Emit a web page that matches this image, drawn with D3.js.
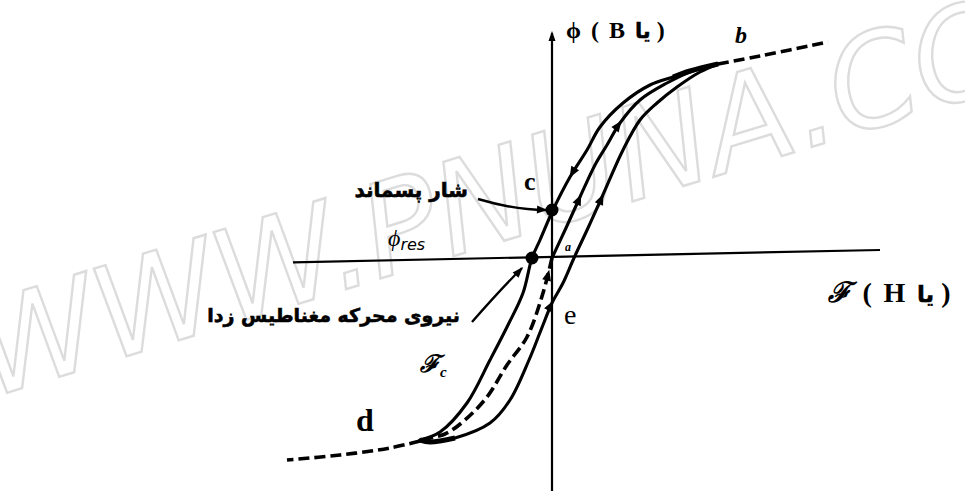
<!DOCTYPE html>
<html><head><meta charset="utf-8">
<script src="https://cdn.jsdelivr.net/npm/d3@7"></script>
<style>body{margin:0;background:#fff}svg{display:block}</style></head>
<body><svg id="c" width="965" height="491"></svg>
<script>
// ---- data (F = magnetomotive force, phi = flux) ----
const descF   = [1.66, 1.38, 1.21, 0.98, 0.71, 0.48, 0.35, 0.18, 0.01, -0.12, -0.20, -0.29, -0.44, -0.62, -0.85, -1.12, -1.32];
const descPhi = [1.94, 1.87, 1.81, 1.73, 1.55, 1.31, 1.08, 0.81, 0.48, 0.18, 0.00, -0.35, -0.67, -1.02, -1.45, -1.74, -1.82];
const ascF    = [-1.32, -1.22, -0.97, -0.62, -0.42, -0.23, -0.11, 0.00, 0.11, 0.22, 0.36, 0.50, 0.71, 0.88, 1.05, 1.25, 1.48, 1.66];
const ascPhi  = [-1.82, -1.84, -1.80, -1.65, -1.42, -1.02, -0.72, -0.45, -0.25, 0.00, 0.30, 0.61, 1.08, 1.38, 1.55, 1.71, 1.86, 1.94];
const initUpF   = [0.00, 0.14, 0.28, 0.43, 0.55, 0.68, 0.88, 1.15, 1.38, 1.66];
const initUpPhi = [0.00, 0.30, 0.61, 0.93, 1.13, 1.35, 1.58, 1.75, 1.86, 1.94];
const initDnF   = [0.00, -0.09, -0.25, -0.45, -0.65, -0.87, -1.07, -1.32];
const initDnPhi = [0.00, -0.35, -0.79, -1.07, -1.39, -1.62, -1.76, -1.82];
const tailUpF   = [1.66, 2.08, 2.76];
const tailUpPhi = [1.94, 2.02, 2.16];
const tailDnF   = [-1.32, -1.62, -2.12, -2.65];
const tailDnPhi = [-1.83, -1.90, -1.97, -2.02];
const axisHF    = [-2.59, 3.28];
const axisHPhi  = [-0.043, 0.08];
const axisVF    = [0, 0];
const axisVPhi  = [-2.33, 2.25];
const phiRes = 0.48;      // residual flux (point c)
const Fc = -0.20;         // coercive mmf

const svg = d3.select("#c");
const x = d3.scaleLinear().domain([-2.6, 3.3]).range([292, 882]);
const y = d3.scaleLinear().domain([-2.33, 2.58]).range([491, 0]);
const zip = (a, b) => a.map((v, i) => [v, b[i]]);
const line = d3.line().x(d => x(d[0])).y(d => y(d[1])).curve(d3.curveCatmullRom.alpha(0.5));
const straight = d3.line().x(d => x(d[0])).y(d => y(d[1]));

// watermark
svg.append("text")
  .attr("transform", "translate(-10,398) rotate(-17)")
  .attr("font-family", "DejaVu Sans").attr("font-style", "italic")
  .attr("font-size", 128).attr("textLength", 1080).attr("lengthAdjust", "spacingAndGlyphs")
  .attr("fill", "none").attr("stroke", "#dcdcdc").attr("stroke-width", 2.4)
  .text("WWW.PNUNA.CO");

// axes
svg.append("path").attr("d", straight(zip(axisHF, axisHPhi))).attr("stroke", "#000").attr("stroke-width", 2.2).attr("fill", "none");
svg.append("path").attr("d", straight(zip(axisVF, axisVPhi))).attr("stroke", "#000").attr("stroke-width", 2.2).attr("fill", "none");
function tri(px, py, ang, L, W) {
  const c = Math.cos(ang), s = Math.sin(ang);
  const p = [[px, py], [px - L * c + W * s, py - L * s - W * c], [px - L * c - W * s, py - L * s + W * c]];
  return "M" + p.map(q => q.join(",")).join("L") + "Z";
}
svg.append("path").attr("d", tri(x(0), y(axisVPhi[1]) - 2, -Math.PI / 2, 10, 3.5)).attr("fill", "#000");

// curves
const solid = [zip(descF, descPhi), zip(ascF, ascPhi), zip(initUpF, initUpPhi)];
const paths = solid.map(d => svg.append("path").attr("d", line(d)).attr("fill", "none")
  .attr("stroke", "#000").attr("stroke-width", 3.1).attr("stroke-linecap", "round"));
const dashed = [zip(initDnF, initDnPhi), zip(tailUpF, tailUpPhi), zip(tailDnF, tailDnPhi)];
const dpaths = dashed.map(d => svg.append("path").attr("d", line(d)).attr("fill", "none")
  .attr("stroke", "#000").attr("stroke-width", 3.6).attr("stroke-dasharray", "11,5"));
svg.append("path").attr("d", line(zip(descF, descPhi).slice(0, 3))).attr("stroke", "#000").attr("stroke-width", 5).attr("fill", "none");
svg.append("path").attr("d", line(zip(ascF, ascPhi).slice(0, 3))).attr("stroke", "#000").attr("stroke-width", 5).attr("fill", "none");

function arrowAt(pathSel, F, phi, flip) {
  const node = pathSel.node(), len = node.getTotalLength();
  let best = 0, bd = 1e9;
  for (let l = 0; l <= len; l += 1) {
    const p = node.getPointAtLength(l);
    const d = (p.x - x(F)) ** 2 + (p.y - y(phi)) ** 2;
    if (d < bd) { bd = d; best = l; }
  }
  const p = node.getPointAtLength(best), q = node.getPointAtLength(Math.min(len, best + 2)), r = node.getPointAtLength(Math.max(0, best - 2));
  let ang = Math.atan2(q.y - r.y, q.x - r.x);
  if (flip) ang += Math.PI;
  svg.append("path").attr("d", tri(p.x, p.y, ang, 11, 4.5)).attr("fill", "#000");
}
arrowAt(paths[0], 0.18, 0.80, false);
arrowAt(paths[2], 0.30, 0.63, false);
arrowAt(paths[2], 0.70, 1.37, false);
arrowAt(paths[1], 0.52, 0.64, false);
arrowAt(paths[1], 0.02, -0.43, false);
arrowAt(dpaths[0], -0.02, -0.12, true);

// dots
svg.append("circle").attr("cx", x(0)).attr("cy", y(phiRes)).attr("r", 6.5).attr("fill", "#000");
svg.append("circle").attr("cx", x(Fc)).attr("cy", y(0)).attr("r", 6.5).attr("fill", "#000");

// pointer lines
svg.append("path").attr("d", `M478,199 Q515,210 546,210`).attr("stroke", "#000").attr("stroke-width", 2.4).attr("fill", "none");
svg.append("path").attr("d", tri(547, 210, 0.05, 10, 4)).attr("fill", "#000");
svg.append("path").attr("d", `M472,322 Q500,290 522,268`).attr("stroke", "#000").attr("stroke-width", 2.4).attr("fill", "none");
svg.append("path").attr("d", tri(523, 267, -0.83, 11, 4)).attr("fill", "#000");

// labels
const serif = "Liberation Serif", fa = "DejaVu Sans";
function t(txt, px, py, opts) {
  const e = svg.append("text").attr("x", px).attr("y", py).text(txt)
    .attr("font-family", opts.f || serif).attr("font-size", opts.s || 20)
    .attr("font-weight", opts.w || "bold").attr("font-style", opts.i ? "italic" : "normal")
    .attr("fill", "#000");
  if (opts.a) e.attr("text-anchor", opts.a);
  if (opts.k) e.attr("stroke", "#000").attr("stroke-width", opts.k);
  return e;
}
const vl = svg.append("text").attr("x", 566).attr("y", 38).attr("font-size", 24).attr("font-weight", "bold").attr("font-family", serif).attr("letter-spacing", 2);
vl.append("tspan").text("ϕ ( B ");
vl.append("tspan").attr("font-family", fa).attr("font-size", 21).attr("stroke", "#000").attr("stroke-width", 0.5).text("یا");
vl.append("tspan").text(" )");
const hl = svg.append("text").attr("x", 828).attr("y", 302).attr("font-size", 28).attr("font-weight", "bold").attr("font-family", serif).attr("letter-spacing", 2.3);
hl.append("tspan").attr("font-style", "italic").text("ℱ");
hl.append("tspan").text(" ( H ");
hl.append("tspan").attr("font-family", fa).attr("font-size", 23).attr("stroke", "#000").attr("stroke-width", 0.5).text("یا");
hl.append("tspan").text(" )");

t("b", 735, 43, { s: 24, i: true });
t("c", 524, 190, { s: 26 });
t("a", 565, 251, { s: 12, i: true });
t("e", 564, 324, { s: 28, w: "normal" });
t("d", 356, 431, { s: 32 });
t("شار پسماند", 468, 197, { f: fa, s: 20, a: "end", k: 0.6 });
t("نیروی محرکه مغناطیس زدا", 460, 322, { f: fa, s: 19, a: "end", k: 0.6 });
const pr = svg.append("text").attr("x", 388).attr("y", 246).attr("font-family", serif).attr("font-style", "italic").attr("font-size", 24);
pr.append("tspan").text("ϕ");
pr.append("tspan").attr("font-size", 16).attr("dy", 4).attr("font-family", "DejaVu Sans").attr("font-weight", "normal").text("res");
const fc = svg.append("text").attr("x", 420).attr("y", 372).attr("font-family", serif).attr("font-style", "italic").attr("font-weight", "bold").attr("font-size", 24);
fc.append("tspan").text("ℱ");
fc.append("tspan").attr("font-size", 15).attr("dy", 5).text("c");
</script></body></html>
